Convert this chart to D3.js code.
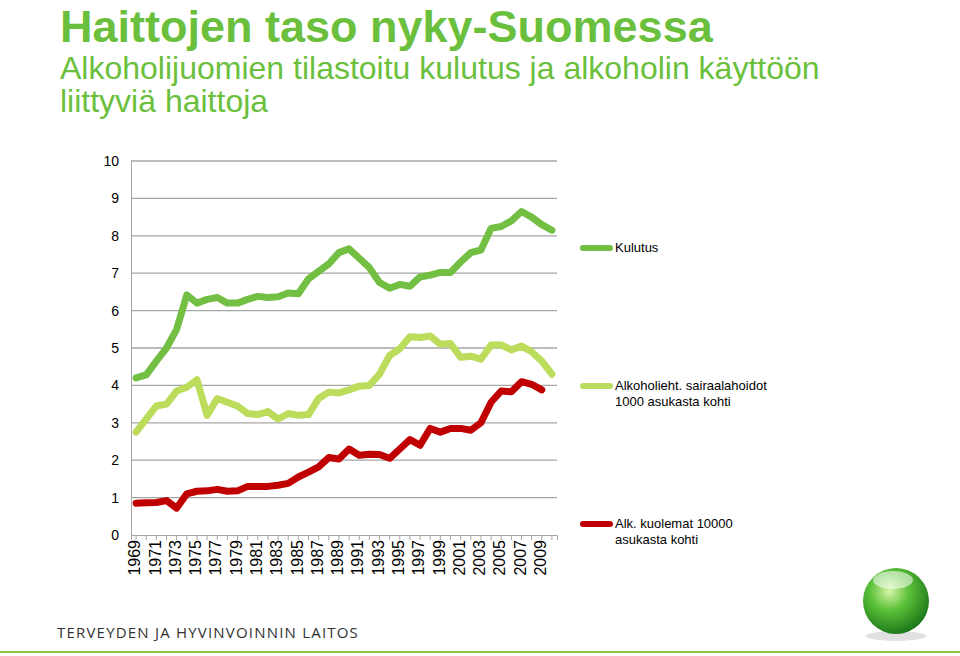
<!DOCTYPE html>
<html><head><meta charset="utf-8">
<script src="https://cdn.jsdelivr.net/npm/d3@7"></script>
<style>body{margin:0;background:#fff;font-family:"Liberation Sans",Arial,sans-serif}</style>
</head><body>
<svg id="c" width="960" height="656"></svg>
<script>
const years = d3.range(1969, 2011);
const yTicks = [0,1,2,3,4,5,6,7,8,9,10];
const kulutus = [4.2,4.28,4.65,5.0,5.5,6.42,6.2,6.3,6.35,6.2,6.2,6.3,6.38,6.35,6.37,6.47,6.45,6.85,7.05,7.25,7.55,7.65,7.4,7.15,6.75,6.6,6.7,6.65,6.9,6.95,7.02,7.02,7.3,7.55,7.62,8.2,8.25,8.4,8.65,8.5,8.3,8.15];
const sairaala = [2.75,3.1,3.45,3.5,3.85,3.95,4.15,3.2,3.65,3.55,3.45,3.25,3.22,3.3,3.1,3.25,3.2,3.22,3.65,3.82,3.8,3.88,3.98,4.0,4.3,4.8,4.98,5.3,5.28,5.32,5.1,5.12,4.75,4.78,4.7,5.08,5.08,4.95,5.05,4.9,4.65,4.3];
const kuolemat = [0.85,0.86,0.87,0.92,0.72,1.1,1.17,1.18,1.22,1.17,1.18,1.3,1.3,1.3,1.33,1.38,1.55,1.68,1.82,2.07,2.03,2.3,2.13,2.16,2.15,2.05,2.3,2.55,2.4,2.85,2.75,2.85,2.85,2.8,3.0,3.55,3.85,3.83,4.1,4.03,3.88];
const series = [
  {name:["Kulutus"], values:kulutus, color:"#72bf44", ly:248},
  {name:["Alkoholieht. sairaalahoidot","1000 asukasta kohti"], values:sairaala, color:"#bcdc5c", ly:386},
  {name:["Alk. kuolemat 10000","asukasta kohti"], values:kuolemat, color:"#c00000", ly:524}
];

const svg = d3.select("#c");
const x = d3.scaleBand().domain(years).range([131, 557]);
const y = d3.scaleLinear().domain([0, 10]).range([535, 161]);

// title
const t = svg.append("g").attr("fill", "#6abf3c").attr("font-family", "Liberation Sans, Arial, sans-serif");
t.append("text").attr("x", 60).attr("y", 42).attr("font-size", 45).attr("font-weight", "bold").text("Haittojen taso nyky-Suomessa");
t.append("text").attr("x", 60).attr("y", 79).attr("font-size", 32).text("Alkoholijuomien tilastoitu kulutus ja alkoholin käyttöön");
t.append("text").attr("x", 60).attr("y", 112).attr("font-size", 32).text("liittyviä haittoja");

// gridlines
svg.append("g").selectAll("line").data(yTicks.slice(1)).join("line")
  .attr("x1", 131).attr("x2", 557).attr("y1", d => y(d)).attr("y2", d => y(d))
  .attr("stroke", "#a6a6a6").attr("stroke-width", 1.3);

// y axis
const ya = svg.append("g").attr("transform", "translate(131,0)")
  .call(d3.axisLeft(y).tickValues(yTicks).tickSize(0).tickPadding(12));
ya.select(".domain").attr("stroke", "#a6a6a6");
ya.selectAll("text").attr("font-size", 14).attr("font-family", "Liberation Sans, Arial").attr("fill", "#000");

// x axis
const xa = svg.append("g").attr("transform", "translate(0,535)")
  .call(d3.axisBottom(x).tickValues(years).tickSize(5).tickFormat(d => d % 2 ? d : ""));
xa.select(".domain").attr("stroke", "#a6a6a6");
xa.selectAll(".tick line").attr("stroke", "#a6a6a6");
xa.selectAll("text").attr("font-size", 16).attr("font-family", "Liberation Sans, Arial").attr("fill", "#000")
  .attr("transform", "rotate(-90)").attr("text-anchor", "end")
  .attr("dy", null).attr("x", -5).attr("y", 0).attr("dominant-baseline", "middle");

// lines
const line = d3.line().x((d, i) => x(years[i]) + x.bandwidth() / 2).y(d => y(d));
svg.append("g").selectAll("path").data(series).join("path")
  .attr("d", d => line(d.values)).attr("fill", "none")
  .attr("stroke", d => d.color).attr("stroke-width", 7).attr("stroke-linejoin", "round").attr("stroke-linecap", "round");

// legend
const lg = svg.append("g").selectAll("g").data(series).join("g").attr("transform", d => `translate(583,${d.ly})`);
lg.append("line").attr("x1", 0).attr("x2", 27).attr("stroke", d => d.color).attr("stroke-width", 6).attr("stroke-linecap", "round");
lg.append("text").attr("x", 32).attr("font-size", 13).attr("fill", "#000")
  .selectAll("tspan").data(d => d.name).join("tspan").attr("x", 32).attr("dy", (d, i) => i ? 16 : 4).text(d => d);

// footer
svg.append("text").attr("x", 57).attr("y", 638).attr("font-size", 15).attr("letter-spacing", 1.2)
  .attr("fill", "#333").attr("font-family", "Open Sans, sans-serif").text("TERVEYDEN JA HYVINVOINNIN LAITOS");
svg.append("line").attr("x1", 0).attr("x2", 960).attr("y1", 652).attr("y2", 652).attr("stroke", "#8dc63f").attr("stroke-width", 2);

// sphere logo
const defs = svg.append("defs");
const rg = defs.append("radialGradient").attr("id", "sph").attr("cx", "40%").attr("cy", "35%").attr("r", "65%");
rg.append("stop").attr("offset", "0%").attr("stop-color", "#d8f5a8");
rg.append("stop").attr("offset", "45%").attr("stop-color", "#5cc23a");
rg.append("stop").attr("offset", "100%").attr("stop-color", "#1f7a1a");
svg.append("ellipse").attr("cx", 896).attr("cy", 636).attr("rx", 30).attr("ry", 5).attr("fill", "#ccc").attr("opacity", 0.6);
svg.append("circle").attr("cx", 896).attr("cy", 601).attr("r", 33).attr("fill", "url(#sph)");
svg.append("ellipse").attr("cx", 893).attr("cy", 580).attr("rx", 20).attr("ry", 9).attr("fill", "#fff").attr("opacity", 0.55);
</script>
</body></html>
